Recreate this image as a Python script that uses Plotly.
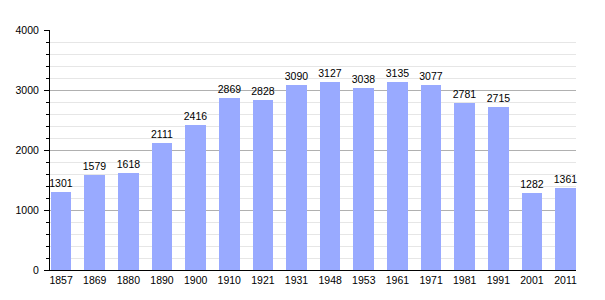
import plotly.graph_objects as go

years = ["1857", "1869", "1880", "1890", "1900", "1910", "1921", "1931",
         "1948", "1953", "1961", "1971", "1981", "1991", "2001", "2011"]
population = [1301, 1579, 1618, 2111, 2416, 2869, 2828, 3090,
              3127, 3038, 3135, 3077, 2781, 2715, 1282, 1361]

fig = go.Figure()
fig.add_trace(go.Bar(
    x=list(range(len(years))),
    y=population,
    width=0.615,
    marker=dict(color="#99aaff", line=dict(width=0)),
    text=[str(v) for v in population],
    textposition="outside",
    constraintext="none",
    textfont=dict(family="Liberation Sans, Arial, sans-serif", size=10.5, color="black"),
    cliponaxis=False,
))

fig.update_layout(
    width=605, height=300,
    margin=dict(l=50, r=29, t=30, b=30),
    paper_bgcolor="white", plot_bgcolor="white",
    showlegend=False,
    bargap=0,
    font=dict(family="Liberation Sans, Arial, sans-serif", size=10.5, color="black"),
    xaxis=dict(
        tickmode="array",
        tickvals=list(range(len(years))),
        ticktext=years,
        range=[-0.33, 15.31],
        showgrid=False,
        showline=True, linecolor="black", linewidth=1,
        ticks="", zeroline=False,
        tickfont=dict(size=10.5, color="black"),
    ),
    yaxis=dict(
        range=[0, 4000],
        dtick=1000,
        showgrid=True, gridcolor="#b0b0b0", gridwidth=1,
        showline=True, linecolor="black", linewidth=1,
        ticks="outside", ticklen=5, tickcolor="black",
        ticklabelstandoff=3,
        zeroline=False,
        tickfont=dict(size=10.5, color="black"),
        minor=dict(dtick=200, showgrid=True, gridcolor="#e6e6e6",
                   ticks="outside", ticklen=3, tickcolor="black"),
    ),
)

fig.write_html("out.html")
